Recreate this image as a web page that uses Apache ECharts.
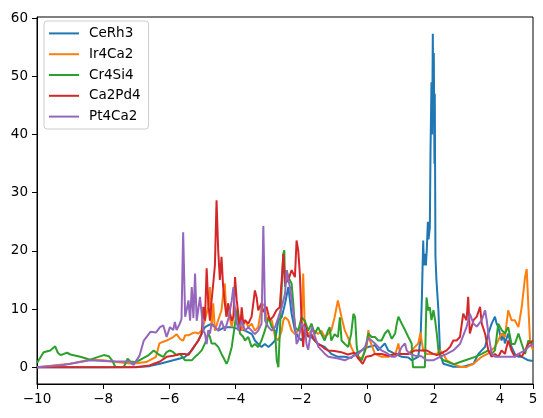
<!DOCTYPE html>
<html>
<head>
<meta charset="utf-8">
<script src="https://cdn.jsdelivr.net/npm/echarts@6/dist/echarts.min.js"></script>
<style>
  html, body { margin: 0; padding: 0; background: #fff; }
  #chart { width: 543px; height: 418px; }
</style>
</head>
<body>
<div id="chart"></div>
<script>
// series names (legend order)
var names = ['CeRh3', 'Ir4Ca2', 'Cr4Si4', 'Ca2Pd4', 'Pt4Ca2']
var colors = ['#1f77b4', '#ff7f0e', '#2ca02c', '#d62728', '#9467bd']

// [energy, value] pairs
var ceRh3 = [[-10,0],[-8,0],[-7,0.05],[-6.6,0.2],[-6.28,0.6],[-5.88,1.2],[-5.68,1.5],[-5.52,1.8],[-5.32,2.9],[-5.12,4.6],[-5.02,5.8],[-4.92,6.9],[-4.72,7.5],[-4.52,6.3],[-4.32,6.9],[-4.12,6.9],[-3.92,6.6],[-3.71,6.3],[-3.5,5.7],[-3.41,4.6],[-3.31,4.0],[-3.21,3.5],[-3.11,4.0],[-3.0,3.5],[-2.9,4.0],[-2.8,4.6],[-2.7,8.1],[-2.6,8.6],[-2.5,10.9],[-2.4,13.8],[-2.3,9.2],[-2.2,6.3],[-2.1,5.2],[-2.0,4.6],[-1.9,5.7],[-1.7,5.2],[-1.5,4.0],[-1.3,3.5],[-1.1,2.3],[-0.9,1.8],[-0.7,1.8],[-0.5,1.6],[-0.38,2.3],[-0.18,2.9],[0.02,3.5],[0.22,3.8],[0.32,2.9],[0.42,3.5],[0.52,4.1],[0.62,2.9],[0.83,2.3],[1.03,1.8],[1.23,1.7],[1.33,1.2],[1.43,1.5],[1.53,1.8],[1.6,5],[1.64,12],[1.66,17],[1.68,21.8],[1.7,17.5],[1.73,19.5],[1.76,17.5],[1.79,20.4],[1.82,25],[1.84,22],[1.88,24],[1.9,37],[1.93,49],[1.95,40],[1.97,57.3],[1.99,42],[2.0,54],[2.02,35],[2.03,47],[2.05,19],[2.08,15],[2.14,9.7],[2.19,2.3],[2.29,0.6],[2.59,0.1],[2.89,0.1],[3.2,0.6],[3.35,2.3],[3.45,2.9],[3.55,3.5],[3.65,5.8],[3.75,7.5],[3.85,8.7],[3.9,7.5],[3.95,6.9],[4.05,4.6],[4.1,5.8],[4.15,4.1],[4.25,5.8],[4.35,3.5],[4.45,2.3],[4.56,1.8],[4.66,1.8],[4.76,1.5],[4.86,1.2],[5.0,1.1]]

var ir4Ca2 = [[-10,0],[-9.5,0.3],[-9,0.6],[-8.4,1.3],[-8.0,1.2],[-7.6,0.9],[-7.1,0.6],[-6.7,0.9],[-6.4,1.8],[-6.3,4.1],[-6.18,4.4],[-6.08,4.6],[-5.88,5.2],[-5.78,5.7],[-5.68,4.9],[-5.58,4.6],[-5.52,5.5],[-5.42,5.5],[-5.32,5.8],[-5.22,6.0],[-5.12,5.8],[-5.02,6.3],[-4.92,8.1],[-4.82,10.4],[-4.77,13.8],[-4.72,6.9],[-4.67,11],[-4.62,6.3],[-4.52,8.1],[-4.42,9.8],[-4.37,12.6],[-4.32,14.4],[-4.27,8.7],[-4.22,9.8],[-4.11,6.9],[-4.01,10.4],[-3.91,8.7],[-3.81,6.3],[-3.71,8.1],[-3.61,6.9],[-3.51,7.5],[-3.41,6.3],[-3.31,6.9],[-3.21,10.4],[-3.11,10.9],[-3.06,8.1],[-3.0,8.6],[-2.9,8.1],[-2.8,5.2],[-2.7,4.6],[-2.6,6.3],[-2.55,8.1],[-2.5,8.6],[-2.4,8.1],[-2.3,6.3],[-2.2,5.7],[-2.1,6.3],[-2.0,7.5],[-1.95,16.1],[-1.9,6.3],[-1.8,5.7],[-1.7,6.3],[-1.6,6.3],[-1.5,5.7],[-1.4,6.3],[-1.3,5.2],[-1.2,5.7],[-1.1,6.3],[-1.0,8.6],[-0.9,11.5],[-0.84,11.5],[-0.79,8.6],[-0.69,6.3],[-0.6,5.2],[-0.5,3.5],[-0.4,2.3],[-0.28,1.8],[-0.18,1.5],[-0.03,3.5],[0.02,6.4],[0.07,4.6],[0.22,2.3],[0.42,1.8],[0.62,1.8],[0.83,2.1],[0.93,4.1],[0.98,2.3],[1.03,2.1],[1.23,2.3],[1.43,3.5],[1.53,4.1],[1.6,6.0],[1.63,4.6],[1.68,2.9],[1.78,2.3],[1.88,2.3],[2.09,2.3],[2.19,2.9],[2.29,2.3],[2.39,1.2],[2.59,0.6],[2.79,0.06],[2.99,0.06],[3.2,0.6],[3.45,1.8],[3.65,2.4],[3.85,3.5],[4.05,5.8],[4.15,5.2],[4.25,9.8],[4.35,8.1],[4.45,8.1],[4.56,6.9],[4.66,10.4],[4.76,15.5],[4.81,16.9],[4.86,10.4],[4.91,4.6],[4.96,3.5],[5.0,3.0]]

var cr4Si4 = [[-10,0.75],[-9.8,2.6],[-9.6,2.9],[-9.45,3.6],[-9.37,2.5],[-9.29,2.1],[-9.09,2.5],[-8.99,2.2],[-8.69,1.8],[-8.39,1.3],[-8.19,1.7],[-7.98,2.1],[-7.83,1.9],[-7.73,1.2],[-7.63,0.06],[-7.38,0.06],[-7.33,0.6],[-7.26,1.5],[-7.18,1.0],[-7.03,0.9],[-6.87,1.3],[-6.62,2.1],[-6.47,2.9],[-6.32,2.2],[-6.18,1.8],[-6.08,2.6],[-5.98,2.9],[-5.88,2.6],[-5.78,2.1],[-5.68,2.3],[-5.58,1.6],[-5.52,1.2],[-5.32,1.2],[-5.22,1.8],[-5.12,2.3],[-5.02,2.9],[-4.92,4.1],[-4.82,5.8],[-4.77,5.2],[-4.72,4.1],[-4.62,4.1],[-4.52,3.5],[-4.42,2.3],[-4.32,1.2],[-4.27,0.6],[-4.22,1.2],[-4.11,3.5],[-4.0,8.0],[-3.96,9.8],[-3.86,5.8],[-3.76,5.2],[-3.71,4.6],[-3.61,5.2],[-3.51,3.5],[-3.41,4.0],[-3.31,3.5],[-3.21,4.6],[-3.11,6.3],[-3.0,8.6],[-2.9,6.9],[-2.8,6.3],[-2.75,1.2],[-2.7,0],[-2.65,6.9],[-2.6,13.8],[-2.55,19.5],[-2.52,20.1],[-2.5,13.8],[-2.45,16.7],[-2.4,15.5],[-2.3,14.4],[-2.25,11],[-2.2,6.9],[-2.1,6.3],[-2.0,8.6],[-1.9,8.0],[-1.8,6.3],[-1.7,7.5],[-1.6,5.7],[-1.5,6.9],[-1.4,5.7],[-1.3,4.6],[-1.2,6.3],[-1.15,6.9],[-1.1,4.6],[-1.0,5.7],[-0.9,5.2],[-0.84,8.6],[-0.79,4.6],[-0.69,4.0],[-0.59,3.5],[-0.5,5.7],[-0.43,9.2],[-0.38,8.6],[-0.33,3.5],[-0.28,1.8],[-0.18,1.2],[-0.08,2.9],[0.02,5.8],[0.12,5.2],[0.22,5.2],[0.32,4.6],[0.42,4.6],[0.52,5.8],[0.62,6.4],[0.73,4.9],[0.83,5.8],[0.88,7.5],[0.93,8.7],[1.03,7.5],[1.13,6.4],[1.23,5.2],[1.33,4.1],[1.37,0],[1.73,0],[1.78,12],[1.83,9.8],[1.88,10.3],[1.93,8.1],[1.99,9.8],[2.04,8.1],[2.09,5.8],[2.14,2.9],[2.19,1.8],[2.29,1.2],[2.4,1.0],[2.6,0.5],[2.8,0.9],[3.0,1.3],[3.25,1.8],[3.45,2.3],[3.65,2.9],[3.75,2.3],[3.85,2.9],[3.95,7.5],[4.05,6.4],[4.15,5.8],[4.25,6.9],[4.35,4.0],[4.45,4.0],[4.56,5.8],[4.66,4.0],[4.76,2.3],[4.86,4.6],[5.0,4.0]]

var ca2Pd4 = [[-10,0],[-7,0],[-6.6,0.3],[-6.28,1.0],[-6.08,1.8],[-5.88,2.0],[-5.68,2.3],[-5.52,2.3],[-5.42,2.1],[-5.32,3.0],[-5.22,3.8],[-5.12,4.6],[-5.02,5.8],[-4.97,10.4],[-4.92,8.0],[-4.87,17],[-4.82,11],[-4.77,8.0],[-4.72,11.5],[-4.67,14.4],[-4.62,17.5],[-4.57,28.7],[-4.52,20.1],[-4.47,15],[-4.42,19],[-4.37,13.8],[-4.32,11],[-4.27,8.7],[-4.22,11],[-4.16,9.2],[-4.11,8.0],[-4.06,8.7],[-4.01,15.5],[-3.96,11.5],[-3.91,9.2],[-3.86,6.3],[-3.81,10.3],[-3.76,7.4],[-3.71,8.1],[-3.61,7.5],[-3.51,8.7],[-3.41,13.2],[-3.36,12.1],[-3.31,9.8],[-3.21,11],[-3.16,9.5],[-3.06,10.4],[-2.96,8.1],[-2.86,8.7],[-2.76,9.8],[-2.66,10.3],[-2.6,15],[-2.55,19.5],[-2.5,14.4],[-2.4,15],[-2.3,16.7],[-2.2,15.5],[-2.15,21.8],[-2.1,20.1],[-2.05,16],[-2.0,8.0],[-1.95,3.5],[-1.9,7.5],[-1.8,5.2],[-1.7,5.7],[-1.6,4.6],[-1.5,4.0],[-1.4,3.7],[-1.3,3.2],[-1.2,2.9],[-1.0,2.8],[-0.8,2.6],[-0.6,2.2],[-0.4,2.5],[-0.28,1.5],[-0.15,0.6],[-0.05,1.8],[0.12,2.0],[0.22,2.3],[0.42,2.3],[0.62,2.0],[0.83,2.3],[1.03,2.3],[1.23,2.3],[1.43,2.9],[1.58,2.9],[1.78,2.9],[1.98,2.3],[2.09,2.1],[2.19,2.3],[2.39,2.9],[2.49,3.5],[2.59,4.6],[2.69,4.6],[2.79,5.2],[2.89,9.2],[2.99,8.1],[3.04,12.1],[3.09,5.8],[3.2,8.1],[3.3,8.7],[3.4,10.4],[3.45,7.5],[3.55,5.8],[3.65,2.9],[3.75,1.8],[3.85,2.3],[3.95,1.8],[4.05,2.9],[4.15,2.3],[4.25,4.6],[4.35,2.9],[4.45,1.8],[4.56,2.3],[4.66,1.8],[4.76,2.9],[4.86,4.0],[5.0,4.6]]

var pt4Ca2 = [[-10,0],[-9.2,0.4],[-8.4,1.2],[-8.0,1.1],[-7.6,1.0],[-7.2,1.0],[-7.08,0.4],[-6.9,2.0],[-6.77,4.6],[-6.57,6.1],[-6.4,6.0],[-6.28,6.9],[-6.18,7.2],[-6.08,5.2],[-5.98,6.9],[-5.88,6.4],[-5.83,7.8],[-5.78,6.4],[-5.68,7.5],[-5.63,8.3],[-5.58,23.2],[-5.52,8.7],[-5.47,10],[-5.42,11.5],[-5.37,8.0],[-5.32,13.8],[-5.27,8.5],[-5.22,16.1],[-5.17,8.0],[-5.07,12.1],[-5.02,9.2],[-4.97,6.3],[-4.92,5.8],[-4.87,4.0],[-4.82,6.4],[-4.77,5.8],[-4.72,7.5],[-4.62,6.9],[-4.52,6.3],[-4.42,8.0],[-4.32,6.3],[-4.2,8.6],[-4.11,11.5],[-4.06,13.8],[-4.01,9.2],[-3.91,6.3],[-3.81,8.0],[-3.71,6.3],[-3.61,6.9],[-3.51,6.3],[-3.41,5.7],[-3.31,6.3],[-3.21,7.5],[-3.155,24.3],[-3.1,8.0],[-3.0,6.9],[-2.9,6.3],[-2.8,6.9],[-2.7,8.6],[-2.6,10.3],[-2.5,12.6],[-2.45,16.7],[-2.4,15],[-2.35,13.8],[-2.3,11.5],[-2.2,7.5],[-2.15,4.0],[-2.1,4.6],[-2.0,7.5],[-1.9,6.9],[-1.85,4.0],[-1.8,3.0],[-1.69,6.9],[-1.59,5.2],[-1.49,3.5],[-1.39,2.9],[-1.29,2.3],[-1.19,1.8],[-0.89,1.5],[-0.69,1.2],[-0.48,1.8],[-0.28,2.3],[-0.08,3.5],[0.02,5.0],[0.12,4.6],[0.22,4.1],[0.32,3.5],[0.42,2.9],[0.62,2.3],[0.73,1.8],[0.83,1.8],[0.93,2.3],[1.03,3.5],[1.13,4.1],[1.18,2.9],[1.28,2.3],[1.43,2.0],[1.63,1.9],[1.78,1.2],[1.98,1.2],[2.19,1.8],[2.39,2.3],[2.59,2.9],[2.79,4.0],[2.99,6.9],[3.09,9.2],[3.2,7.5],[3.3,7.0],[3.45,8.1],[3.55,9.8],[3.6,8.1],[3.65,5.8],[3.75,2.3],[3.85,1.8],[4.05,1.8],[4.25,1.8],[4.45,1.8],[4.56,2.3],[4.76,2.9],[4.86,3.5],[5.0,4.0]]

var seriesData = [ceRh3, ir4Ca2, cr4Si4, ca2Pd4, pt4Ca2]
var yTicks = [0, 10, 20, 30, 40, 50, 60]

var chart = echarts.init(document.getElementById('chart'))

var series = names.map(function (name, i) {
  return {
    name: name,
    type: 'line',
    data: seriesData[i],
    showSymbol: false,
    symbol: 'none',
    lineStyle: { width: 2, color: colors[i] },
    itemStyle: { color: colors[i] },
    z: 2 + i
  }
})

var axisFont = { fontFamily: 'DejaVu Sans', fontSize: 13.5, color: '#000' }

var option = {
  animation: false,
  backgroundColor: '#fff',
  grid: {
    left: 37, right: 10, top: 17, bottom: 34,
    show: true, borderColor: '#000', borderWidth: 1,
    backgroundColor: 'transparent'
  },
  legend: {
    orient: 'vertical',
    left: 44, top: 21,
    data: names,
    icon: 'rect',
    itemWidth: 30,
    itemHeight: 2,
    itemGap: 0,
    padding: [2, 8, 2, 5],
    backgroundColor: 'rgba(255,255,255,0.8)',
    borderColor: '#cccccc',
    borderWidth: 1,
    borderRadius: 3,
    selectedMode: false,
    textStyle: {
      fontFamily: 'DejaVu Sans', fontSize: 13.5, color: '#000',
      lineHeight: 20.8, padding: [0, 0, 0, 5]
    }
  },
  xAxis: {
    type: 'value',
    min: -10, max: 5, interval: 2,
    axisLine: { show: true, onZero: false, lineStyle: { color: '#000', width: 1 } },
    axisTick: { show: true, length: 5, lineStyle: { color: '#000' } },
    axisLabel: Object.assign({ margin: 8, formatter: function (v) { return String(v).replace('-', '\u2212') } }, axisFont),
    splitLine: { show: false }
  },
  yAxis: {
    type: 'value',
    min: -2.87, max: 60.2,
    axisLine: { show: true, onZero: false, lineStyle: { color: '#000', width: 1 } },
    axisTick: { show: true, length: 5, customValues: yTicks, lineStyle: { color: '#000' } },
    axisLabel: Object.assign({ margin: 9, customValues: yTicks }, axisFont),
    splitLine: { show: false }
  },
  series: series
}

chart.setOption(option)
</script>
</body>
</html>
